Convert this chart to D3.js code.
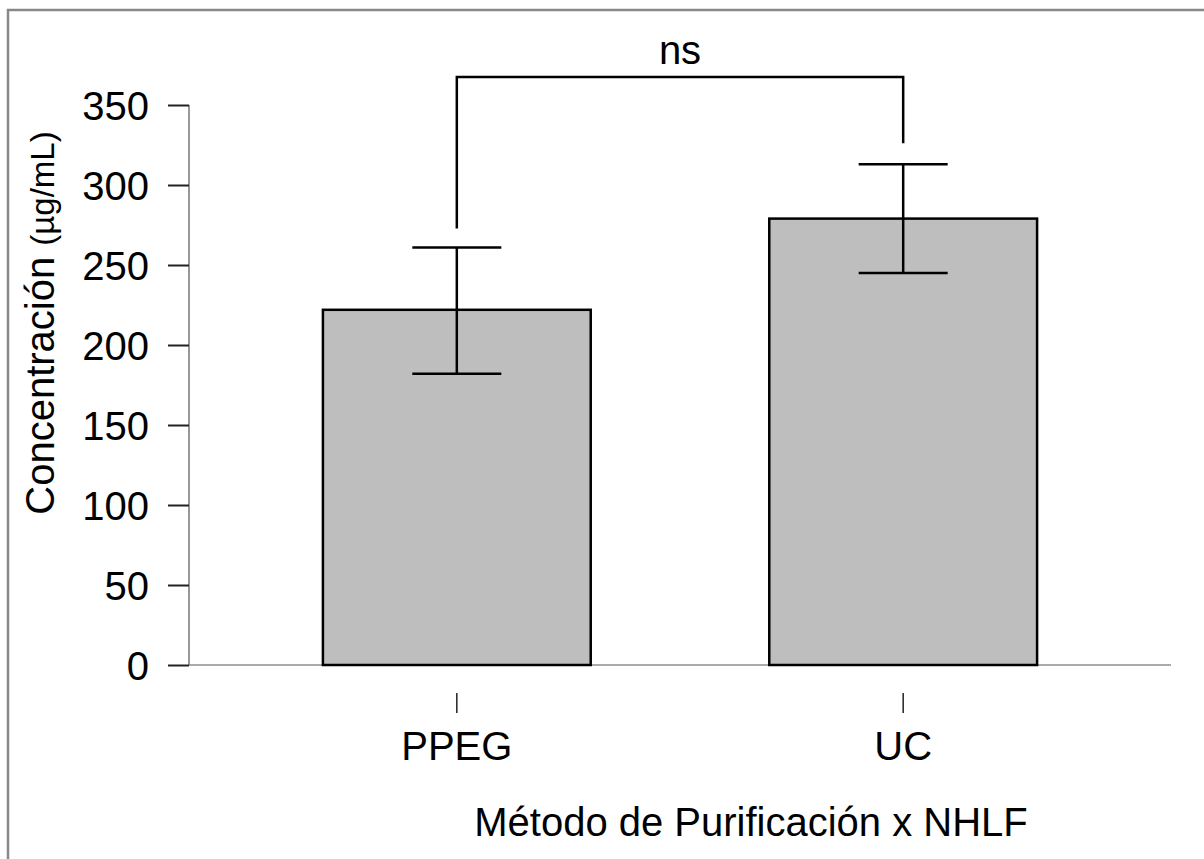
<!DOCTYPE html>
<html>
<head>
<meta charset="utf-8">
<script src="https://cdn.jsdelivr.net/npm/d3@7"></script>
<style>
  body { margin: 0; background: #fff; }
  svg text { font-family: "Liberation Sans", Arial, sans-serif; fill: #000; }
</style>
</head>
<body>
<script>
'use strict';

// data
const groups = ["PPEG", "UC"];
const means = [222, 279];
const errLow = [182, 245];
const errHigh = [261, 313];
const yTicks = [0, 50, 100, 150, 200, 250, 300, 350];
const sigLabel = "ns";

(function() {
  const W = 1204, H = 859;
  const svg = d3.select("body").append("svg")
    .attr("width", W)
    .attr("height", H);

  // outer frame (runs off the right/bottom edge)
  svg.append("rect")
    .attr("x", 8).attr("y", 10)
    .attr("width", W + 20).attr("height", H + 20)
    .attr("fill", "none")
    .attr("stroke", "#888")
    .attr("stroke-width", 2.5);

  const left = 189, right = 1171, top = 105, bottom = 665;

  const x = d3.scaleBand()
    .domain(groups)
    .range([left, right])
    .paddingInner(0.4)
    .paddingOuter(0.3);

  const y = d3.scaleLinear()
    .domain([0, 350])
    .range([bottom, top]);

  // baseline
  svg.append("line")
    .attr("x1", left).attr("x2", right)
    .attr("y1", bottom).attr("y2", bottom)
    .attr("stroke", "#aaa")
    .attr("stroke-width", 2);

  // y axis
  const yAxis = svg.append("g")
    .attr("transform", "translate(" + left + ",0)")
    .call(d3.axisLeft(y).tickValues(yTicks).tickSize(21).tickPadding(19));
  yAxis.select(".domain").attr("stroke", "#777").attr("stroke-width", 1.5)
    .attr("d", "M0," + top + "V" + bottom);
  yAxis.selectAll(".tick line").attr("stroke", "#222").attr("stroke-width", 2);
  yAxis.selectAll(".tick text")
    .attr("font-size", "40px")
    .attr("dy", "0.36em")
    .style("font-family", "'Liberation Sans', Arial, sans-serif");

  // bars
  svg.selectAll("rect.bar")
    .data(groups)
    .enter()
    .append("rect")
      .attr("class", "bar")
      .attr("x", d => x(d))
      .attr("width", x.bandwidth())
      .attr("y", (d, i) => y(means[i]))
      .attr("height", (d, i) => y(0) - y(means[i]))
      .attr("fill", "#bebebe")
      .attr("stroke", "#000")
      .attr("stroke-width", 2.5);

  // error bars
  const capW = 89;
  const eb = svg.selectAll("g.err")
    .data(groups)
    .enter()
    .append("g")
      .attr("class", "err")
      .attr("stroke", "#000")
      .attr("stroke-width", 2.5);
  eb.append("line")
    .attr("x1", d => x(d) + x.bandwidth() / 2)
    .attr("x2", d => x(d) + x.bandwidth() / 2)
    .attr("y1", (d, i) => y(errLow[i]))
    .attr("y2", (d, i) => y(errHigh[i]));
  eb.append("line")
    .attr("x1", d => x(d) + x.bandwidth() / 2 - capW / 2)
    .attr("x2", d => x(d) + x.bandwidth() / 2 + capW / 2)
    .attr("y1", (d, i) => y(errHigh[i]))
    .attr("y2", (d, i) => y(errHigh[i]));
  eb.append("line")
    .attr("x1", d => x(d) + x.bandwidth() / 2 - capW / 2)
    .attr("x2", d => x(d) + x.bandwidth() / 2 + capW / 2)
    .attr("y1", (d, i) => y(errLow[i]))
    .attr("y2", (d, i) => y(errLow[i]));

  // x axis ticks + labels (offset below baseline)
  const xAxis = svg.append("g")
    .attr("transform", "translate(0,693)")
    .call(d3.axisBottom(x).tickSize(20).tickPadding(18).tickSizeOuter(0));
  xAxis.select(".domain").remove();
  xAxis.selectAll(".tick line").attr("y1", 0).attr("stroke", "#222").attr("stroke-width", 1.5);
  xAxis.selectAll(".tick text")
    .attr("font-size", "40px")
    .attr("dy", "0.72em")
    .style("font-family", "'Liberation Sans', Arial, sans-serif");

  // significance bracket
  const bracketY = 77;
  const c0 = x(groups[0]) + x.bandwidth() / 2, c1 = x(groups[1]) + x.bandwidth() / 2;
  svg.append("path")
    .attr("d", "M" + c0 + "," + (y(errHigh[0]) - 19) + "V" + bracketY + "H" + c1 + "V" + (y(errHigh[1]) - 21))
    .attr("fill", "none")
    .attr("stroke", "#000")
    .attr("stroke-width", 2.5);
  svg.append("text")
    .attr("x", (c0 + c1) / 2)
    .attr("y", 64)
    .attr("text-anchor", "middle")
    .attr("font-size", "40px")
    .text(sigLabel);

  // axis titles
  const yt = svg.append("text")
    .attr("transform", "translate(54,323) rotate(-90)")
    .attr("text-anchor", "middle")
    .attr("font-size", "40px");
  yt.append("tspan").text("Concentración ");
  yt.append("tspan").attr("font-size", "33px").text("(µg/mL)");

  svg.append("text")
    .attr("x", 751)
    .attr("y", 836)
    .attr("text-anchor", "middle")
    .attr("font-size", "40px")
    .text("Método de Purificación x NHLF");
})();
</script>
</body>
</html>
